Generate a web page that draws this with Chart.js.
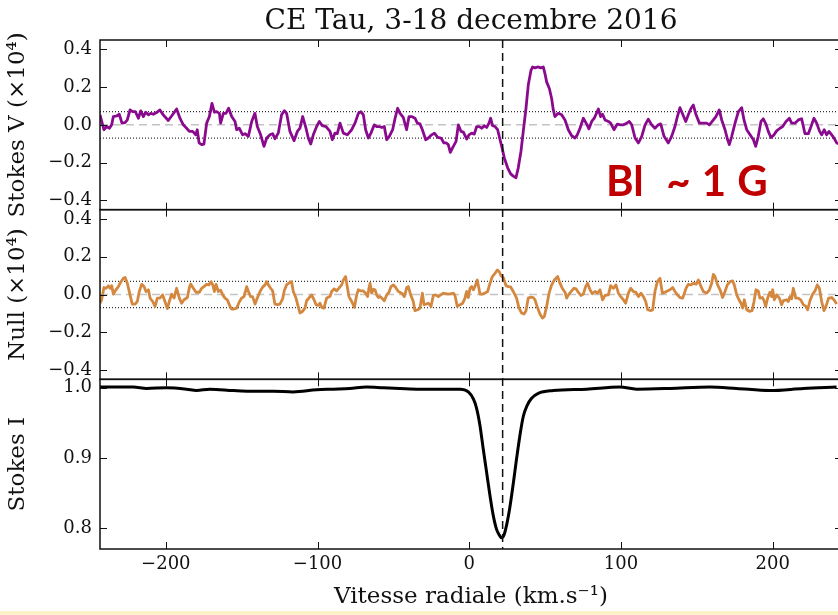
<!DOCTYPE html>
<html>
<head>
<meta charset="utf-8">
<script src="https://cdn.jsdelivr.net/npm/chart.js@4/dist/chart.umd.min.js"></script>
<style>
  html, body { margin: 0; padding: 0; background: #fff; overflow: hidden; }
  #wrap { position: relative; width: 838px; height: 615px; overflow: hidden; }
  #lsd { position: absolute; left: 0; top: 0; }
  #bfield {
    position: absolute; left: 606px; top: 159px;
    font-family: Lato, "Open Sans", sans-serif; font-weight: bold; font-size: 42px;
    line-height: 42px; color: #c00000; white-space: pre; word-spacing: 1px;
  }
  #strip { position: absolute; left: 0; top: 611px; width: 838px; height: 4px; background: #fdf1c9; }
</style>
</head>
<body>
<div id="wrap">
  <canvas id="lsd" width="842" height="615"></canvas>
  <div id="bfield">Bl  ~ 1 G</div>
  <div id="strip"></div>
</div>
<script>
const titleText = "CE Tau, 3-18 decembre 2016";
const xLabel = "Vitesse radiale (km.s\u207B\u00B9)";
const vLabel = "Stokes V (\u00D710\u2074)";
const nullLabel = "Null (\u00D710\u2074)";
const iLabel = "Stokes I";

const velMin = -243.4;
const velMax = 245.7;
const velTicks = [-200, -100, 0, 100, 200];
const polTicks = [-0.4, -0.2, 0.0, 0.2, 0.4];
const intTicks = [0.8, 0.9, 1.0];
const noiseLevel = 0.07;
const lineCentre = 22;

// Stokes V (x1e4)
const vVel = [-243.4, -240.8, -239.0, -237.2, -235.7, -234.6, -232.4, -230.7, -228.9, -226.9, -225.4, -223.6, -221.9, -220.1, -218.1, -216.6, -214.8, -213.3, -211.5, -210.0, -208.2, -206.1, -203.9, -201.7, -198.4, -196.2, -192.9, -190.7, -188.5, -186.3, -184.5, -182.3, -180.3, -179.3, -178.1, -176.4, -174.9, -173.1, -171.3, -169.6, -168.0, -166.5, -164.7, -163.9, -162.1, -160.4, -158.6, -156.6, -154.4, -153.3, -151.6, -149.4, -147.8, -145.6, -143.4, -141.3, -139.7, -137.5, -135.3, -133.5, -131.4, -129.6, -128.1, -125.9, -123.7, -121.9, -120.4, -118.2, -115.5, -113.3, -111.6, -109.8, -107.6, -106.1, -104.5, -102.8, -100.6, -98.8, -96.9, -94.4, -91.8, -90.3, -88.5, -87.0, -85.2, -83.0, -80.4,
  -77.5, -75.3, -73.1, -71.4, -69.8, -68.3, -66.5, -64.8, -62.6, -61.0, -59.3, -57.7, -56.0, -54.4, -52.7, -50.5, -48.9, -47.2, -45.6, -43.5, -41.3, -39.7, -38.0, -35.8, -34.2, -32.5, -30.9, -28.7, -27.0, -24.8, -23.0, -20.8, -18.6, -16.7, -15.3, -13.8, -12.5, -10.5, -8.7, -7.2, -5.4, -3.9, -1.7, -0.2, 1.6, 3.3, 4.9, 6.6, 8.2, 9.9, 11.5, 13.0, 14.1, 15.4, 17.0, 18.7, 20.3, 21.4, 23.1, 25.3, 27.3, 29.0, 30.8, 32.3, 34.1, 35.6, 37.4, 38.9, 40.7, 41.8, 43.3, 45.1, 47.1, 48.8, 49.9, 51.0, 52.8, 54.3, 55.4, 56.5, 58.7, 60.9, 63.1, 65.3, 67.5, 69.7, 71.2, 73.0, 75.2, 77.4, 78.9, 80.7, 82.4,
  85.1, 86.6, 87.9, 89.5, 91.7, 93.2, 95.4, 97.6, 99.8, 101.6, 103.8, 105.5, 107.1, 109.3, 111.5, 113.7, 115.9, 118.0, 120.2, 122.4, 124.6, 126.2, 128.4, 131.2, 133.4, 135.6, 137.2, 138.9, 140.7, 142.7, 144.4, 146.2, 147.7, 149.5, 151.7, 154.3, 156.5, 158.3, 160.9, 162.6, 164.8, 166.4, 168.6, 170.3, 171.4, 173.0, 175.2, 177.4, 179.6, 181.1, 182.9, 185.1, 187.3, 188.8, 190.5, 192.3, 193.8, 195.6, 197.1, 198.9, 200.9, 202.6, 204.8, 206.6, 208.8, 211.0, 212.5, 214.7, 216.9, 219.1, 221.3, 223.5, 225.3, 227.2, 229.0, 230.8, 232.3, 234.0, 235.6, 237.1, 238.9, 240.4, 242.2, 243.9];
const vStokes = [0.053, -0.026, -0.009, -0.018, 0.0, 0.044, 0.047, 0.056, 0.009, 0.012, 0.026, 0.079, 0.070, 0.070, 0.035, 0.074, 0.044, 0.067, 0.053, 0.061, 0.056, 0.065, 0.079, 0.053, 0.023, 0.047, 0.084, 0.035, 0.0, -0.018, -0.035, -0.035, -0.053, -0.026, -0.096, -0.105, -0.102, 0.009, 0.044, 0.114, 0.067, 0.070, 0.061, 0.009, 0.061, 0.061, 0.088, 0.044, 0.018, -0.026, -0.018, -0.053, -0.047, -0.061, 0.018, 0.061, -0.009, -0.053, -0.114, -0.070, -0.053, -0.047, -0.074, -0.044, 0.053, 0.075, 0.061, -0.035, -0.084, -0.035, -0.018, 0.044, -0.018, -0.070, -0.102, -0.053, -0.009, 0.018, -0.004, -0.009, -0.035, -0.079, -0.044, -0.047, 0.009, -0.044, -0.053,
  -0.026, 0.009, 0.061, 0.070, 0.053, -0.026, -0.070, -0.044, 0.0, -0.009, -0.009, -0.014, -0.009, -0.079, -0.061, -0.026, 0.035, 0.088, 0.061, 0.040, -0.026, 0.044, 0.044, 0.035, 0.009, 0.005, -0.026, -0.079, -0.070, -0.053, -0.044, -0.067, -0.070, -0.096, -0.096, -0.105, -0.146, -0.114, -0.088, 0.0, -0.035, -0.039, -0.075, -0.053, -0.044, -0.049, -0.009, -0.009, -0.018, -0.005, -0.014, 0.009, 0.035, -0.005, -0.009, -0.026, -0.079, -0.114, -0.175, -0.228, -0.260, -0.272, -0.281, -0.228, -0.140, -0.035, 0.088, 0.211, 0.289, 0.307, 0.302, 0.307, 0.302, 0.307, 0.272, 0.228, 0.193, 0.140, 0.079, 0.044, 0.061, 0.053, 0.026, -0.026, -0.058, -0.070, -0.053, -0.018, 0.035, 0.004, -0.021, 0.018, 0.035,
  0.084, 0.044, 0.056, 0.026, 0.018, 0.009, -0.026, 0.004, 0.0, 0.0, 0.009, 0.018, 0.0, -0.070, -0.096, -0.061, 0.0, 0.030, 0.0, -0.018, 0.0, 0.005, -0.061, -0.096, -0.061, -0.009, 0.044, 0.091, 0.056, 0.018, 0.053, 0.088, 0.105, 0.053, 0.009, 0.009, 0.009, 0.0, 0.026, 0.044, 0.079, 0.026, -0.026, -0.079, -0.105, -0.061, 0.009, 0.070, 0.091, 0.026, -0.026, -0.053, -0.079, -0.114, -0.061, 0.018, 0.032, 0.004, -0.035, -0.067, -0.053, -0.032, -0.018, -0.009, 0.018, 0.035, 0.009, 0.009, 0.026, 0.032, -0.047, -0.047, -0.009, 0.035, 0.009, -0.032, -0.053, -0.026, -0.053, -0.035, -0.053, -0.070, -0.096, -0.102];

// Null profile (x1e4)
const nullVel = [-243.4, -242.3, -240.8, -239.4, -237.9, -236.8, -235.7, -234.6, -232.9, -231.3, -229.8, -228.0, -226.9, -225.4, -223.6, -222.1, -220.3, -218.8, -217.5, -215.9, -214.4, -213.1, -211.5, -210.4, -208.7, -207.1, -205.6, -203.9, -202.1, -200.6, -199.0, -197.7, -196.2, -194.6, -192.9, -191.1, -189.6, -188.0, -185.8, -184.5, -183.6, -181.9, -180.1, -177.9, -176.4, -174.9, -173.1, -171.6, -170.2, -169.1, -168.0, -166.9, -165.4, -163.9, -162.5, -161.0, -159.5, -157.7, -156.6, -155.1, -153.3, -151.6, -150.0, -148.5, -146.7, -145.6, -144.1, -142.8, -141.2, -139.7, -137.9, -136.2, -134.6, -133.5, -132.4, -130.9, -129.6, -128.1, -126.3, -124.8, -123.0, -121.9, -120.4, -118.2, -117.1, -116.0, -114.2, -113.1, -111.6, -109.8, -108.3, -107.2, -105.4, -103.9, -102.3, -101.0, -99.5, -98.4, -97.3, -95.8, -94.0, -91.8, -90.7, -89.0, -87.4, -85.6, -84.1, -83.0, -81.5,
  -80.8, -79.3, -77.5, -75.7, -74.2, -73.1, -71.4, -69.8, -68.3, -67.0, -66.1, -65.4, -64.3, -63.2, -62.1, -61.0, -59.9, -58.8, -57.7, -56.0, -54.4, -52.9, -51.6, -50.0, -48.5, -46.7, -44.5, -42.8, -41.2, -40.2, -38.6, -36.9, -35.8, -34.0, -32.5, -30.9, -29.8, -28.5, -27.0, -25.2, -23.7, -22.1, -20.4, -18.8, -17.1, -15.5, -13.8, -12.0, -10.5, -9.4, -7.9, -6.1, -4.3, -2.8, -1.7, -0.6, 0.5, 1.6, 2.7, 4.2, 5.3, 7.1, 8.6, 10.4, 12.1, 13.7, 15.2, 17.0, 18.5, 19.8, 20.9, 22.5, 24.2, 25.8, 27.3, 29.0, 31.2, 32.8, 34.5, 36.1, 37.4, 38.9, 40.5, 42.2, 43.3, 45.1, 46.6, 48.2, 49.5, 51.0, 52.6, 54.3, 56.1, 58.3, 59.8, 61.3, 63.1, 64.2, 65.7, 67.5, 69.0, 70.4, 71.9, 73.6, 75.2, 76.7, 78.0, 79.6, 81.1,
  82.9, 84.4, 86.2, 87.9, 89.5, 91.7, 93.2, 95.0, 96.7, 98.3, 99.8, 101.6, 103.1, 104.9, 106.4, 108.2, 109.9, 111.5, 113.2, 114.8, 116.3, 117.6, 119.6, 120.9, 122.4, 124.0, 125.7, 127.3, 129.0, 130.6, 132.3, 134.1, 135.6, 137.2, 138.9, 140.7, 142.9, 144.4, 146.2, 147.7, 149.5, 151.0, 152.8, 154.3, 156.5, 158.3, 159.8, 160.9, 162.0, 163.7, 165.3, 167.0, 168.6, 170.1, 171.9, 173.6, 174.7, 176.3, 177.8, 179.1, 180.2, 181.3, 182.9, 184.6, 186.4, 187.7, 189.0, 190.5, 191.6, 193.2, 194.3, 195.4, 196.7, 198.2, 199.3, 200.0, 201.1, 202.6, 204.4, 205.9, 207.0, 209.2, 210.3, 211.4, 212.5, 213.6, 215.2, 216.9, 218.5, 220.2, 222.0, 223.1, 224.6, 226.1, 227.9, 229.4, 230.8, 232.3, 233.8, 235.1, 236.9, 238.9, 240.4, 242.2];
const nullVals = [-0.046, -0.028, 0.037, 0.033, 0.046, 0.033, 0.047, 0.002, 0.025, 0.042, 0.065, 0.086, 0.091, 0.060, -0.002, -0.051, -0.051, -0.037, 0.016, 0.054, 0.042, 0.016, 0.025, -0.019, -0.037, -0.063, -0.019, -0.019, -0.002, -0.037, -0.075, -0.037, 0.002, -0.019, 0.033, -0.019, -0.046, -0.028, -0.016, 0.037, 0.056, 0.033, 0.012, 0.012, 0.033, 0.042, 0.054, 0.051, 0.068, 0.051, 0.016, 0.054, 0.016, 0.023, -0.002, -0.019, -0.028, -0.063, -0.077, -0.077, -0.072, -0.040, -0.019, -0.011, 0.042, 0.016, -0.011, -0.011, -0.051, -0.019, 0.016, 0.039, 0.051, 0.068, 0.051, 0.033, 0.019, -0.051, -0.054, -0.051, -0.023, 0.021, 0.051, 0.065, 0.068, 0.016, -0.019, -0.054, -0.098, -0.089, -0.072, -0.033, -0.016, -0.002, -0.028, -0.054, -0.058, -0.046, -0.068, -0.072, -0.019, -0.011, 0.016, 0.030, 0.019, 0.037, 0.051, 0.077, 0.095,
  0.060, -0.011, -0.037, -0.068, -0.002, 0.025, 0.019, 0.019, 0.007, -0.011, 0.033, 0.060, 0.007, 0.028, 0.025, -0.002, -0.016, -0.011, -0.019, -0.033, -0.002, 0.012, 0.042, 0.051, 0.037, 0.016, 0.007, -0.011, 0.037, 0.042, -0.002, -0.037, -0.086, -0.081, -0.072, 0.007, -0.054, -0.051, -0.046, -0.063, -0.005, -0.002, -0.011, -0.002, 0.007, 0.004, 0.002, 0.004, 0.007, -0.005, -0.063, -0.054, -0.046, -0.019, 0.016, -0.016, 0.033, 0.042, 0.025, 0.051, 0.077, 0.002, 0.002, 0.007, 0.016, 0.060, 0.095, 0.112, 0.130, 0.121, 0.100, 0.089, 0.047, 0.042, 0.040, 0.016, -0.019, -0.072, -0.098, -0.104, -0.086, -0.019, -0.014, -0.016, -0.028, -0.072, -0.104, -0.125, -0.116, -0.063, 0.007, 0.051, 0.077, 0.095, 0.060, 0.033, 0.012, -0.019, 0.002, 0.019, 0.033, 0.030, 0.011, -0.005, 0.002, 0.042, 0.060, 0.025, 0.004,
  0.016, 0.007, 0.025, -0.028, -0.005, -0.002, 0.047, 0.033, 0.051, 0.007, -0.011, -0.028, -0.046, 0.007, 0.033, 0.016, 0.011, -0.011, 0.007, -0.011, -0.037, -0.081, -0.086, -0.081, 0.016, 0.068, 0.086, 0.007, 0.012, 0.019, 0.025, 0.037, 0.016, -0.002, -0.016, -0.019, 0.033, 0.054, 0.051, 0.060, 0.054, 0.077, 0.042, 0.016, 0.007, 0.025, 0.060, 0.107, 0.095, 0.051, 0.025, -0.016, 0.016, 0.051, 0.068, 0.072, 0.051, -0.002, -0.028, -0.046, -0.072, -0.028, -0.081, -0.089, -0.086, -0.037, 0.025, 0.019, -0.019, -0.016, -0.033, -0.063, -0.019, 0.012, -0.011, 0.025, -0.028, -0.002, -0.019, -0.054, -0.033, -0.028, -0.037, -0.011, -0.023, 0.033, -0.019, -0.019, -0.028, -0.054, -0.063, -0.081, -0.033, -0.002, 0.019, 0.051, 0.033, -0.037, -0.086, -0.063, -0.019, -0.016, -0.028, -0.051];

// Stokes I
const iVel = [-243.5, -221.5, -212.7, -199.6, -186.4, -179.8, -171.0, -155.6, -144.6, -129.2, -116.1, -100.7, -89.7, -78.7, -67.7, -56.7, -45.8, -32.6, -6.1,
  -0.6, 2.7, 4.8, 7.0, 9.2, 11.4, 13.6, 15.8, 18.0, 19.8, 21.3, 22.9, 24.6, 26.8, 29.0, 31.2, 33.4, 35.6, 38.2, 41.1, 45.5, 55.4, 77.4,
  99.3, 110.3, 132.3, 158.6, 176.2, 198.2, 220.2, 242.1];
const iVals = [1.001, 1.001, 0.999, 1.0, 0.998, 0.996, 0.998, 0.996, 0.995, 0.995, 0.994, 0.997, 0.998, 0.999, 1.001, 1.0, 0.999, 0.998, 0.998,
  0.994, 0.984, 0.971, 0.947, 0.913, 0.880, 0.847, 0.818, 0.798, 0.790, 0.786, 0.790, 0.804, 0.830, 0.863, 0.899, 0.932, 0.959, 0.975, 0.985, 0.992, 0.996, 0.998,
  1.001, 0.998, 0.999, 1.001, 0.999, 0.996, 0.999, 1.001];

const serif = "'DejaVu Serif', serif";
const minus = (s) => s.replace('-', '\u2212');

const toPoints = (xs, ys) => xs.map((x, i) => ({ x: x, y: ys[i] }));
const hline = (y, axis, color, dash, width) => ({
  data: [{ x: velMin, y: y }, { x: velMax, y: y }],
  yAxisID: axis,
  borderColor: color,
  borderDash: dash,
  borderWidth: width,
  pointRadius: 0,
});

// frame around each panel, inward ticks, vertical line at the line centre
const panelFrame = {
  id: 'panelFrame',
  afterDatasetsDraw(chart) {
    const { ctx, chartArea, scales } = chart;
    const x = scales.x;
    const tick = 7;
    ctx.save();
    ctx.strokeStyle = '#111';
    ctx.lineWidth = 1.5;
    ['yV', 'yN', 'yI'].forEach(id => {
      const s = scales[id];
      ctx.strokeRect(chartArea.left, s.top, chartArea.right - chartArea.left, s.bottom - s.top);
      ctx.lineWidth = 1;
      ctx.beginPath();
      velTicks.forEach(v => {
        const px = Math.round(x.getPixelForValue(v)) + 0.5;
        ctx.moveTo(px, s.top); ctx.lineTo(px, s.top + tick);
        ctx.moveTo(px, s.bottom); ctx.lineTo(px, s.bottom - tick);
      });
      s.ticks.forEach(t => {
        const py = Math.round(s.getPixelForValue(t.value)) + 0.5;
        ctx.moveTo(chartArea.left, py); ctx.lineTo(chartArea.left + tick, py);
        ctx.moveTo(chartArea.right, py); ctx.lineTo(chartArea.right - tick, py);
      });
      ctx.stroke();
      ctx.lineWidth = 1.5;
    });
    const cx = x.getPixelForValue(lineCentre);
    ctx.setLineDash([8, 5]);
    ctx.beginPath();
    ctx.moveTo(cx, chartArea.top);
    ctx.lineTo(cx, chartArea.bottom);
    ctx.stroke();
    ctx.restore();
  }
};

const yAxis = (label, min, max, ticks, weight, fmt) => ({
  type: 'linear',
  position: 'left',
  stack: 'panels',
  stackWeight: 1,
  weight: weight,
  min: min,
  max: max,
  afterBuildTicks: (s) => { s.ticks = ticks.map(value => ({ value })); },
  afterFit: (s) => { s.width = 100; },
  grid: { display: false, drawTicks: false },
  border: { display: false },
  ticks: {
    padding: 8,
    color: '#111',
    font: { family: serif, size: 18 },
    callback: fmt,
  },
  title: {
    display: true,
    text: label,
    color: '#111',
    font: { family: serif, size: 23 },
    padding: { top: 4, bottom: 0 },
  },
});

Chart.defaults.font.family = serif;
Chart.defaults.color = '#111';

new Chart(document.getElementById('lsd'), {
  type: 'line',
  data: {
    datasets: [
      {
        data: toPoints(vVel, vStokes),
        yAxisID: 'yV',
        borderColor: '#8a0a8e',
        borderWidth: 2.8,
        borderJoinStyle: 'round',
        pointRadius: 0,
      },
      {
        data: toPoints(nullVel, nullVals),
        yAxisID: 'yN',
        borderColor: '#d4883f',
        borderWidth: 2.8,
        borderJoinStyle: 'round',
        pointRadius: 0,
      },
      {
        data: toPoints(iVel, iVals),
        yAxisID: 'yI',
        borderColor: '#000',
        borderWidth: 3,
        borderJoinStyle: 'round',
        cubicInterpolationMode: 'monotone',
        pointRadius: 0,
      },
      hline(0, 'yV', '#c4c4c4', [8, 5], 1.5),
      hline(0, 'yN', '#c4c4c4', [8, 5], 1.5),
      hline(noiseLevel, 'yV', '#333', [1, 2], 1.2),
      hline(-noiseLevel, 'yV', '#333', [1, 2], 1.2),
      hline(noiseLevel, 'yN', '#333', [1, 2], 1.2),
      hline(-noiseLevel, 'yN', '#333', [1, 2], 1.2),
    ]
  },
  options: {
    responsive: false,
    animation: false,
    devicePixelRatio: 1,
    layout: { padding: 0 },
    scales: {
      x: {
        type: 'linear',
        min: velMin,
        max: velMax,
        afterBuildTicks: (s) => { s.ticks = velTicks.map(value => ({ value })); },
        afterFit: (s) => { s.height = 66; },
        grid: { display: false, drawTicks: false },
        border: { display: false },
        ticks: {
          padding: 5,
          color: '#111',
          font: { family: serif, size: 18 },
          callback: (v) => minus(String(v)),
        },
        title: {
          display: true,
          text: xLabel,
          color: '#111',
          font: { family: serif, size: 23 },
          padding: { top: 0, bottom: 4 },
        },
      },
      yI: yAxis(iLabel, 0.77, 1.012, intTicks, 1, (v) => v.toFixed(1)),
      yN: yAxis(nullLabel, -0.45, 0.45, polTicks, 2, (v) => minus(v.toFixed(1))),
      yV: yAxis(vLabel, -0.45, 0.45, polTicks, 3, (v) => minus(v.toFixed(1))),
    },
    plugins: {
      legend: { display: false },
      tooltip: { enabled: false },
      title: {
        display: true,
        text: titleText,
        fullSize: false,
        color: '#111',
        font: { family: serif, size: 28, weight: 'normal' },
        padding: { top: 5, bottom: 1.4 },
      },
    },
  },
  plugins: [panelFrame],
});
</script>
</body>
</html>
